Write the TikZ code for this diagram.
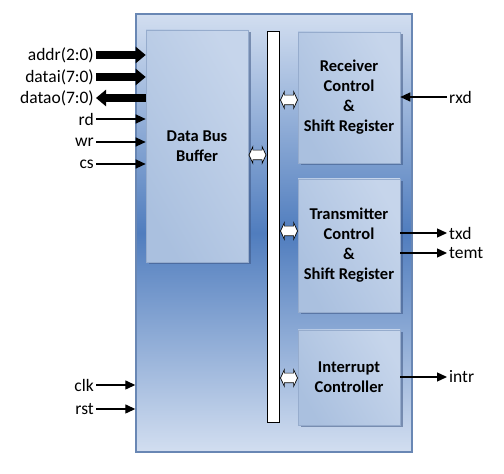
\documentclass[tikz,border=0pt]{standalone}
\usepackage{fontspec}
\setmainfont{Carlito}
\usetikzlibrary{arrows.meta,shapes.arrows,shadows}
\definecolor{outerTop}{RGB}{210,222,240}
\definecolor{outerMid}{RGB}{80,125,190}
\definecolor{outerBorder}{RGB}{105,135,180}
\definecolor{boxLight}{RGB}{242,246,251}
\definecolor{boxEdgeA}{RGB}{198,213,235}
\definecolor{boxEdgeB}{RGB}{170,192,223}
\definecolor{boxBorder}{RGB}{150,172,205}
\definecolor{shadowC}{RGB}{60,85,130}
\tikzset{
  outerbox/.style={draw=outerBorder, line width=1.4pt, top color=outerTop, bottom color=outerTop, middle color=outerMid, inner sep=0pt},
  unitbox/.style={draw=boxBorder, line width=0.6pt, shading=axis, left color=boxEdgeA, middle color=boxLight, right color=boxEdgeB, shading angle=-60,
    drop shadow={shadow xshift=2.5pt, shadow yshift=-2.5pt, fill=shadowC, opacity=0.55},
    inner sep=0pt, align=center, font=\bfseries\fontsize{16.5}{20}\selectfont},
  busbar/.style={draw=black, line width=1pt, fill=white, inner sep=0pt},
  busarrow/.style={shape=double arrow, draw=black, line width=0.7pt, fill=white, inner sep=4.5pt, double arrow head extend=3.5pt, double arrow tip angle=130, minimum height=17pt, minimum width=16pt},
  sig/.style={inner sep=2pt, font=\fontsize{17.5}{20}\selectfont},
  bigarrow/.style={line width=8pt, -{Triangle[length=10pt,width=16pt]}},
  thinarrow/.style={line width=1.3pt, -{Triangle[length=10pt,width=9pt]}},
}
\begin{document}
\begin{tikzpicture}[x=1pt,y=1pt]
\useasboundingbox (0,0) rectangle (504,474);
\node[outerbox, minimum width=276pt, minimum height=438pt] (outer) at (274,241) {};
\node[unitbox, minimum width=102pt, minimum height=232pt] (dbb) at (197,328) {Data Bus\\Buffer};
\node[busbar, minimum width=12pt, minimum height=391pt] (bus) at (273,246.5) {};
\node[unitbox, minimum width=102pt, minimum height=131pt] (rx) at (349,376.5) {Receiver\\Control\\\&\\Shift Register};
\node[unitbox, minimum width=102pt, minimum height=133pt] (tx) at (349,228.5) {Transmitter\\Control\\\&\\Shift Register};
\node[unitbox, minimum width=102pt, minimum height=95pt] (intc) at (349,96.5) {Interrupt\\Controller};
% bus connections
\node[busarrow] (adbb) at (257.5,319) {};
\node[busarrow] (arx) at (289,374) {};
\node[busarrow] (atx) at (289,243) {};
\node[busarrow] (aint) at (289,96) {};
% left signals
\node[sig, anchor=east] (addr) at (96,419) {addr(2:0)};
\node[sig, anchor=east] (datai) at (96,397) {datai(7:0)};
\node[sig, anchor=east] (datao) at (96,376) {datao(7:0)};
\node[sig, anchor=east] (rd) at (96,355) {rd};
\node[sig, anchor=east] (wr) at (96,332) {wr};
\node[sig, anchor=east] (cs) at (96,310) {cs};
\node[sig, anchor=east] (clk) at (96,89) {clk};
\node[sig, anchor=east] (rst) at (96,65) {rst};
\draw[bigarrow] (addr.east) -- (addr.east -| dbb.west);
\draw[bigarrow] (datai.east) -- (datai.east -| dbb.west);
\draw[bigarrow] (datao.east -| dbb.west) -- (datao.east);
\draw[thinarrow] (rd.east) -- (rd.east -| dbb.west);
\draw[thinarrow] (wr.east) -- (wr.east -| dbb.west);
\draw[thinarrow] (cs.east) -- (cs.east -| dbb.west);
\draw[thinarrow] (clk.east) -- (clk.east -| outer.west);
\draw[thinarrow] (rst.east) -- (rst.east -| outer.west);
% right signals
\node[sig, anchor=west] (rxd) at (447,377) {rxd};
\node[sig, anchor=west] (txd) at (447,241) {txd};
\node[sig, anchor=west] (temt) at (447,221) {temt};
\node[sig, anchor=west] (intr) at (447,97) {intr};
\draw[thinarrow] (rxd.west) -- (rxd.west -| rx.east);
\draw[thinarrow] (txd.west -| tx.east) -- (txd.west);
\draw[thinarrow] (temt.west -| tx.east) -- (temt.west);
\draw[thinarrow] (intr.west -| intc.east) -- (intr.west);
\end{tikzpicture}
\end{document}
